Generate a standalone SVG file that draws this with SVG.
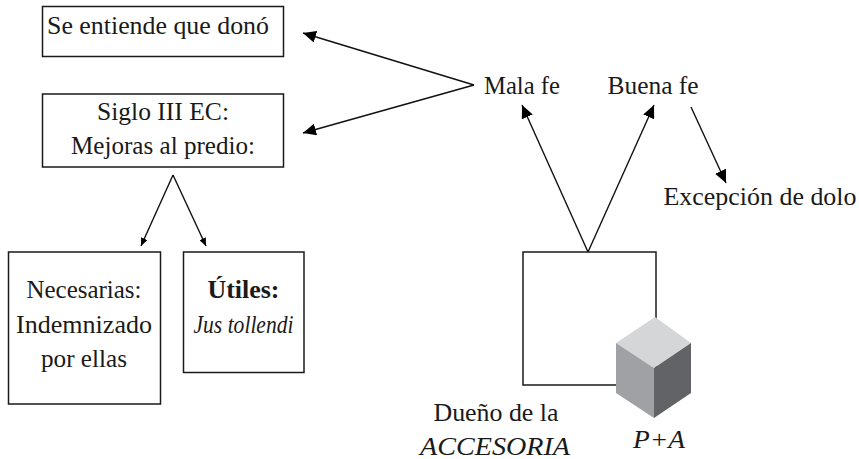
<svg xmlns="http://www.w3.org/2000/svg" width="859" height="459" viewBox="0 0 859 459">
<style>
.b{fill:#fff;stroke:#1a1a1a;stroke-width:1.5}
.t{font-family:"Liberation Serif","Times New Roman",serif;font-size:25px;fill:#1a1a1a;text-anchor:middle}
.c line{stroke:#111;stroke-width:1.4;fill:none}
</style>
<defs>
<marker id="a" viewBox="0 0 13 12" refX="13" refY="6" markerWidth="13" markerHeight="12" markerUnits="userSpaceOnUse" orient="auto"><path d="M0 0L13 6L0 12z" fill="#000"/></marker>
<marker id="s" viewBox="0 0 8 7" refX="8" refY="3.500" markerWidth="8" markerHeight="7" markerUnits="userSpaceOnUse" orient="auto"><path d="M0 0L8 3.500L0 7z" fill="#000"/></marker>
</defs>
<rect width="859" height="459" fill="#fff"/>
<g id="connectors" class="c">
<line x1="474" y1="85" x2="303" y2="33" marker-end="url(#a)"/>
<line x1="474" y1="85" x2="303" y2="133" marker-end="url(#a)"/>
<line x1="173" y1="175" x2="141" y2="246" marker-end="url(#s)"/>
<line x1="173" y1="175" x2="206" y2="246" marker-end="url(#s)"/>
<line x1="588" y1="252" x2="522" y2="105" marker-end="url(#a)"/>
<line x1="588" y1="252" x2="654" y2="105" marker-end="url(#a)"/>
<line x1="691" y1="107" x2="726" y2="183" marker-end="url(#a)"/>
</g>
<g id="n1"><rect class="b" x="42.5" y="6.500" width="241" height="50"/><text class="t" x="158" y="34" textLength="222" lengthAdjust="spacingAndGlyphs">Se entiende que donó</text></g>
<g id="n2"><rect class="b" x="42.5" y="94" width="241" height="73"/><text class="t" x="163" y="120" textLength="132" lengthAdjust="spacingAndGlyphs">Siglo III EC:</text><text class="t" x="163" y="154" textLength="184" lengthAdjust="spacingAndGlyphs">Mejoras al predio:</text></g>
<g id="n3"><rect class="b" x="8.5" y="252" width="152" height="152"/><text class="t" x="84" y="298" textLength="115" lengthAdjust="spacingAndGlyphs">Necesarias:</text><text class="t" x="84" y="333" textLength="136" lengthAdjust="spacingAndGlyphs">Indemnizado</text><text class="t" x="84" y="367" textLength="86" lengthAdjust="spacingAndGlyphs">por ellas</text></g>
<g id="n4"><rect class="b" x="183.5" y="252" width="120.5" height="120.5"/><text class="t" x="243.500" y="298" font-weight="bold" textLength="72" lengthAdjust="spacingAndGlyphs">Útiles:</text><text class="t" x="243.500" y="333" font-style="italic" textLength="100" lengthAdjust="spacingAndGlyphs">Jus tollendi</text></g>
<g id="n5"><rect class="b" x="523" y="252" width="133" height="133"/></g>
<g id="n6">
<path d="M655 317L691 343L654 368L616 343z" fill="#d5d6d8"/>
<path d="M616 343L654 368V418L616 393z" fill="#a0a1a4"/>
<path d="M654 368L691 343V393L654 418z" fill="#626366"/>
</g>
<g id="n7"><text class="t" x="496" y="421" textLength="125" lengthAdjust="spacingAndGlyphs">Dueño de la</text><text class="t" x="495" y="455" font-style="italic" textLength="150" lengthAdjust="spacingAndGlyphs">ACCESORIA</text></g>
<g id="n8"><text class="t" x="659" y="448" font-style="italic" textLength="52" lengthAdjust="spacingAndGlyphs">P+A</text></g>
<g id="n9"><text class="t" x="522" y="94" textLength="76" lengthAdjust="spacingAndGlyphs">Mala fe</text></g>
<g id="n10"><text class="t" x="653" y="94" textLength="91" lengthAdjust="spacingAndGlyphs">Buena fe</text></g>
<g id="n11"><text class="t" x="760" y="205" textLength="193" lengthAdjust="spacingAndGlyphs">Excepción de dolo</text></g>
</svg>
